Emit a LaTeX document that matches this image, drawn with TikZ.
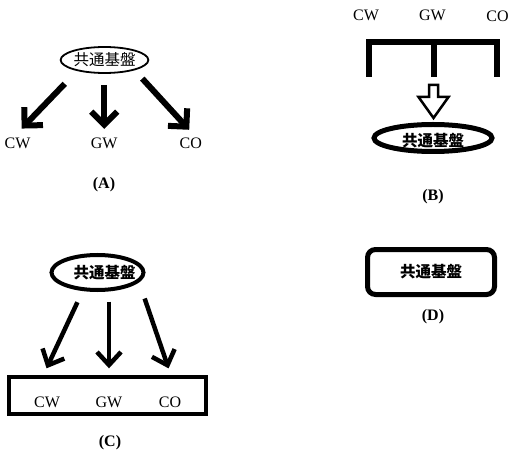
\documentclass[tikz,border=0pt]{standalone}
\usepackage{fontspec}
\setmainfont{Liberation Serif}
\newfontfamily\cjk{Noto Sans CJK JP}
\usetikzlibrary{arrows.meta,shapes.geometric}
\begin{document}
\begin{tikzpicture}[x=1pt,y=-1pt,
  lbl/.style={font=\fontsize{16}{17}\selectfont, inner sep=0pt, outer sep=0pt},
  figcap/.style={font=\fontsize{16}{17}\selectfont\bfseries, inner sep=0pt},
  base/.style={ellipse, draw, inner sep=0pt, outer sep=0pt,
    font=\cjk\fontsize{15.5}{16}\selectfont},
  boldbase/.style={base, font=\cjk\bfseries\fontsize{15.5}{16}\selectfont},
  arrA/.style={line width=6pt, -{Straight Barb[length=13pt,width=26pt,sharp]}},
  arrC/.style={line width=4.5pt, -{Straight Barb[length=13pt,width=24pt,sharp]}},
  bracket/.style={line width=6pt, line join=miter},
  hollow/.style={line width=2.5pt, line join=miter, fill=white}
]
\useasboundingbox (0,0) rectangle (508,454);

% (A) one base feeding three systems
\node[base, line width=1.8pt, minimum width=83pt, minimum height=26pt] (eA) at (104.5,60) {共通基盤};
\node[lbl] (cwA) at (17.5,143.2) {CW};
\node[lbl] (gwA) at (104.2,143.2) {GW};
\node[lbl] (coA) at (190.8,143.2) {CO};
\node[figcap] (capA) at (104,185) {(A)};
\draw[arrA, shorten <=18.7pt, shorten >=12.8pt] (eA.201.8) -- (cwA.131.5);
\draw[arrA, shorten <=12pt, shorten >=8.9pt] (eA.south -| gwA) -- (gwA.north);
\draw[arrA, shorten <=12.2pt, shorten >=10.9pt] (eA.342.1) -- (coA.43.4);

% (B) three systems merged into one base
\node[lbl] (cwB) at (366,15.8) {CW};
\node[lbl] (gwB) at (432.5,15.8) {GW};
\node[lbl] (coB) at (497.5,15.8) {CO};
\draw[bracket] (368.5,77) -- (368.5,42) -- (497,42) -- (497,77);
\draw[bracket] (433.5,42) -- (433.5,77);
\draw[hollow] (429,85) -- (438,85) -- (438,97) -- (448.5,97) -- (433.5,118)
  -- (418.5,97) -- (429,97) -- cycle;
\node[boldbase, line width=5pt, minimum width=118pt, minimum height=27pt,
  text height=18pt, text depth=1pt] (eB) at (433,138) {共通基盤};
\node[figcap] (capB) at (433,197) {(B)};

% (C) one base feeding a grouped block; its text sits a little right of centre
\node[boldbase, line width=4pt, minimum width=92pt, minimum height=35pt] (eC) at (97.5,272.5)
  {\makebox[62pt]{\hspace*{14pt}共通基盤}};
\node[draw, line width=4pt, inner sep=0pt, outer sep=0pt, minimum width=197pt, minimum height=37pt] (rC) at (107,395.5) {};
\node[lbl] (cwC) at (47,402.5) {CW};
\node[lbl] (gwC) at (109,402.5) {GW};
\node[lbl] (coC) at (170,402.5) {CO};
\node[figcap] (capC) at (110,443) {(C)};
\draw[arrC, shorten <=14.4pt, shorten >=9.6pt] (eC.230.2) -- (rC.164);
\draw[arrC, shorten <=11.7pt, shorten >=8.7pt] (eC.south -| gwC) -- (rC.north -| gwC);
\draw[arrC, shorten <=19.1pt, shorten >=9.1pt] (eC.349.4) -- (rC.16.5);

% (D) the base alone
\node[draw, line width=5pt, rounded corners=8pt, inner sep=0pt, outer sep=0pt,
  minimum width=127pt, minimum height=45pt,
  font=\cjk\bfseries\fontsize{15.5}{16}\selectfont] (rD) at (431,272) {共通基盤};
\node[figcap] (capD) at (433,317) {(D)};
\end{tikzpicture}
\end{document}
